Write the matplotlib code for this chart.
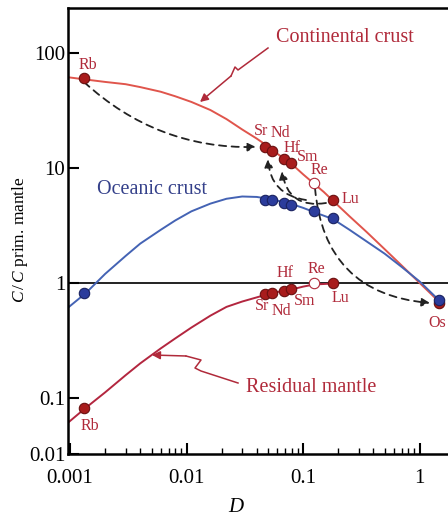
import numpy as np
import matplotlib.pyplot as plt
from matplotlib.lines import Line2D
from matplotlib.ticker import FixedLocator, FixedFormatter, LogLocator, NullLocator, NullFormatter

plt.rcParams['font.family'] = ['Liberation Serif', 'DejaVu Serif']
plt.rcParams['mathtext.fontset'] = 'custom'
plt.rcParams['mathtext.rm'] = 'Liberation Serif'
plt.rcParams['mathtext.it'] = 'Liberation Serif:italic'

# model curves (D, C/C prim. mantle)
D_cc = [0.00096, 0.00132, 0.002, 0.003, 0.004, 0.006, 0.008, 0.011, 0.016, 0.022, 0.03, 0.04,
        0.05, 0.06, 0.08, 0.1, 0.124, 0.15, 0.18, 0.25, 0.35, 0.5, 0.7, 1.0, 1.46]
C_cc = [61.5, 59, 56, 53.5, 50.5, 46, 42, 37.5, 31.9, 26.6, 21.6, 18, 15.4, 13.3, 10.8, 8.8, 7.3,
        6.2, 5.2, 3.8, 2.78, 1.97, 1.42, 1.0, 0.69]

D_oc = [0.00096, 0.00137, 0.002, 0.003, 0.004, 0.006, 0.008, 0.011, 0.016, 0.022, 0.03, 0.04,
        0.05, 0.06, 0.08, 0.1, 0.124, 0.15, 0.18, 0.25, 0.35, 0.5, 0.7, 1.0, 1.46]
C_oc = [0.61, 0.82, 1.2, 1.72, 2.2, 2.9, 3.5, 4.2, 4.9, 5.4, 5.65, 5.6, 5.4, 5.2, 4.85, 4.5, 4.14,
        3.85, 3.6, 2.9, 2.3, 1.8, 1.38, 1.03, 0.71]

D_rm = [0.00096, 0.00132, 0.002, 0.003, 0.004, 0.006, 0.008, 0.011, 0.016, 0.022, 0.03, 0.04,
        0.05, 0.065, 0.08, 0.1, 0.124, 0.15, 0.18]
C_rm = [0.061, 0.080, 0.112, 0.158, 0.2, 0.27, 0.33, 0.41, 0.52, 0.62, 0.69, 0.75, 0.80, 0.85,
        0.88, 0.93, 0.97, 0.98, 0.99]

# elements
elements = ['Rb', 'Sr', 'Nd', 'Hf', 'Sm', 'Re', 'Lu', 'Os']
D_el = [0.00132, 0.047, 0.054, 0.069, 0.078, 0.124, 0.18, 1.46]
C_el_cc = [60, 15.2, 14.0, 12.0, 11.0, 7.4, 5.3, 0.67]
C_el_oc = [0.82, 5.3, 5.3, 4.96, 4.76, 4.2, 3.68, 0.71]
C_el_rm = [0.082, 0.80, 0.82, 0.85, 0.88, 0.99, 0.99]

red_line = '#e0554c'
res_line = '#b3263f'
blue_line = '#4463b4'
red_dot = '#a81c1c'
blue_dot = '#2b3c9c'
txt_red = '#b02a3a'
txt_blue = '#34408a'

fig = plt.figure(figsize=(4.48, 5.17), dpi=100)
ax = fig.add_axes([68/448, 63/517, 382/448, 446/517])


def px(x, y):
    return (x/448, 1 - y/517)


ax.axhline(1, color='#222222', lw=1.4, zorder=1)
ax.plot(D_cc, C_cc, color=red_line, lw=1.4, zorder=2)
ax.plot(D_oc, C_oc, color=blue_line, lw=1.4, zorder=2)
ax.plot(D_rm, C_rm, color=res_line, lw=1.4, zorder=2)

dot = dict(ls='none', marker='o', ms=7.5, mew=0.8, zorder=4)
ax.plot(D_el[:-1], C_el_oc[:-1], mfc=blue_dot, mec='#1a2260', **dot)
for i, el in enumerate(elements):
    if el == 'Re':
        ax.plot(D_el[i], C_el_cc[i], mfc='white', mec=txt_red, **dot)
        ax.plot(D_el[i], C_el_rm[i], mfc='white', mec=txt_red, **dot)
    else:
        ax.plot(D_el[i], C_el_cc[i], mfc=red_dot, mec='#6a1010', **dot)
        if i < len(C_el_rm):
            ax.plot(D_el[i], C_el_rm[i], mfc=red_dot, mec='#6a1010', **dot)
ax.plot(D_el[-1], C_el_oc[-1], mfc=blue_dot, mec='#1a2260', **dot)

ax.set_xscale('log')
ax.set_yscale('log')
ax.set_xlim(0.00096, 1.82)
ax.set_ylim(0.0326, 246)

ax.yaxis.set_major_locator(FixedLocator([0.0326, 0.1, 1, 10, 100]))
ax.yaxis.set_major_formatter(FixedFormatter(['0.01', '0.1', '1', '10', '100']))
ax.yaxis.set_minor_locator(NullLocator())
ax.xaxis.set_major_locator(FixedLocator([0.001, 0.01, 0.1, 1]))
ax.xaxis.set_major_formatter(FixedFormatter(['0.001', '0.01', '0.1', '1']))
ax.xaxis.set_minor_locator(LogLocator(base=10, subs=np.arange(2, 10)))
ax.xaxis.set_minor_formatter(NullFormatter())
ax.tick_params(which='major', direction='in', length=8, width=1.5, labelsize=15)
ax.tick_params(axis='x', which='major', pad=11)
ax.tick_params(axis='y', which='major', pad=2)
ax.tick_params(which='minor', direction='in', length=4, width=1.0)
ax.spines['right'].set_visible(False)
for s in ['left', 'top', 'bottom']:
    ax.spines[s].set_linewidth(1.8)

ax.set_xlabel(r'$D$', fontsize=15)
ax.xaxis.set_label_coords((237 - 68)/382, (454 - 498)/446)
fig.text(*px(20, 240), r'$C\,/\,C$ prim. mantle', rotation=90, fontsize=12.5,
         ha='center', va='center')

# curve names
fig.text(*px(345, 38), 'Continental crust', color=txt_red, fontsize=14.5, ha='center', va='center')
fig.text(*px(152, 190), 'Oceanic crust', color=txt_blue, fontsize=14.5, ha='center', va='center')
fig.text(*px(311, 387), 'Residual mantle', color=txt_red, fontsize=14.5, ha='center', va='center')

# element labels
lab = dict(color=txt_red, fontsize=11.5, ha='center', va='center')
for s, (x, y) in [('Rb', (88, 65)), ('Sr', (261, 131)), ('Nd', (280, 133)), ('Hf', (292, 148)),
                  ('Sm', (308, 157)), ('Re', (319, 170)), ('Lu', (350, 199)),
                  ('Hf', (285, 273)), ('Re', (316, 269)), ('Sr', (262, 306)), ('Nd', (281, 311)),
                  ('Sm', (305, 301)), ('Lu', (340, 298)), ('Rb', (90, 426)), ('Os', (437, 323))]:
    fig.text(*px(x, y), s, **lab)

# wavy pointer arrows
for pts in [[(268, 48), (238, 70), (235, 67), (231, 76), (200, 102)],
            [(238, 383), (201, 371), (195, 368), (201, 360), (186, 356), (152, 355)]]:
    xs = [px(*p)[0] for p in pts]
    ys = [px(*p)[1] for p in pts]
    fig.add_artist(Line2D(xs[:-1], ys[:-1], color=txt_red, lw=1.1, transform=fig.transFigure))
    ax.annotate('', xy=(xs[-1], ys[-1]), xycoords='figure fraction',
                xytext=(xs[-2], ys[-2]), textcoords='figure fraction',
                arrowprops=dict(arrowstyle='-|>', color=txt_red, lw=1.1,
                                shrinkA=0, shrinkB=0, mutation_scale=12))

# dashed paths
for start, end, rad in [((84, 82), (256, 147), 0.2),
                        ((306, 200), (268, 159), -0.4),
                        ((326, 203), (282, 171), -0.5),
                        ((315, 188), (430, 303), 0.42)]:
    ax.annotate('', xy=px(*end), xycoords='figure fraction',
                xytext=px(*start), textcoords='figure fraction',
                arrowprops=dict(arrowstyle='-|>', color='#222222', lw=1.3, ls=(0, (4, 3)),
                                connectionstyle='arc3,rad=%s' % rad,
                                shrinkA=0, shrinkB=0, mutation_scale=12), zorder=3)

fig.savefig('out.png', dpi=100)
